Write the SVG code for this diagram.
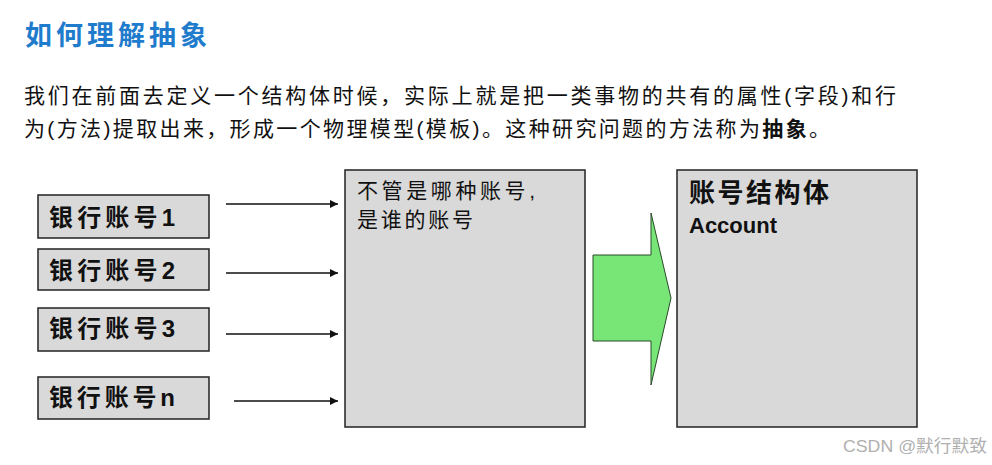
<svg xmlns="http://www.w3.org/2000/svg" width="992" height="465" viewBox="0 0 992 465">
<style>
text{font-family:"Liberation Sans","Noto Sans CJK SC",sans-serif;fill:#111}
.title{font-size:27px;font-weight:bold;fill:#1f7ccc}
.body{font-size:21px}
.acct{font-size:24px;font-weight:bold}
.box{fill:#d9d9d9;stroke:#222;stroke-width:1.5}
.conn{stroke:#111;stroke-width:1.5;fill:none;marker-end:url(#ah)}
</style>
<defs>
<marker id="ah" viewBox="0 0 10 10" refX="10" refY="5" markerWidth="8" markerHeight="8" markerUnits="userSpaceOnUse" orient="auto">
<path d="M0,0 L10,5 L0,10 z" fill="#111"/>
</marker>
</defs>
<rect width="992" height="465" fill="#fff"/>
<text class="title" x="25" y="45" textLength="182" lengthAdjust="spacing">如何理解抽象</text>
<text class="body" x="24" y="103" textLength="872" lengthAdjust="spacing">我们在前面去定义一个结构体时候，实际上就是把一类事物的共有的属性(字段)和行</text>
<text class="body" x="24" y="136" textLength="806" lengthAdjust="spacing">为(方法)提取出来，形成一个物理模型(模板)。这种研究问题的方法称为<tspan font-weight="bold">抽象</tspan>。</text>
<g id="acc1"><rect class="box" x="38" y="195" width="171" height="43"/><text class="acct" x="49" y="226" textLength="126" lengthAdjust="spacing">银行账号1</text></g>
<g id="acc2"><rect class="box" x="38" y="249" width="171" height="41"/><text class="acct" x="49" y="279" textLength="126" lengthAdjust="spacing">银行账号2</text></g>
<g id="acc3"><rect class="box" x="38" y="308" width="171" height="43"/><text class="acct" x="49" y="337" textLength="126" lengthAdjust="spacing">银行账号3</text></g>
<g id="accn"><rect class="box" x="38" y="377" width="171" height="42"/><text class="acct" x="49" y="406" textLength="126" lengthAdjust="spacing">银行账号n</text></g>
<g id="middle"><rect class="box" x="345" y="170" width="240" height="257"/>
<text class="body" x="357" y="198" font-size="22" textLength="178" lengthAdjust="spacing">不管是哪种账号,</text>
<text class="body" x="357" y="227" font-size="22" textLength="116" lengthAdjust="spacing">是谁的账号</text></g>
<g id="bigarrow"><polygon points="593,255 651,255 651,213 671,298 651,385 651,341 593,341" fill="#77e677" stroke="#2a4a2a" stroke-width="1"/></g>
<g id="struct"><rect class="box" x="677" y="170" width="240" height="257"/>
<text x="689" y="202" font-size="26" font-weight="bold" textLength="140" lengthAdjust="spacing">账号结构体</text>
<text x="689" y="233" font-size="22" font-weight="bold">Account</text></g>
<g id="connectors">
<line class="conn" x1="226" y1="204" x2="338" y2="204"/>
<line class="conn" x1="226" y1="273" x2="338" y2="273"/>
<line class="conn" x1="226" y1="334" x2="338" y2="334"/>
<line class="conn" x1="234" y1="401" x2="338" y2="401"/>
</g>
<text x="843" y="452" font-size="17" style="fill:#b0b0b0" textLength="144" lengthAdjust="spacingAndGlyphs">CSDN @默行默致</text>
</svg>
